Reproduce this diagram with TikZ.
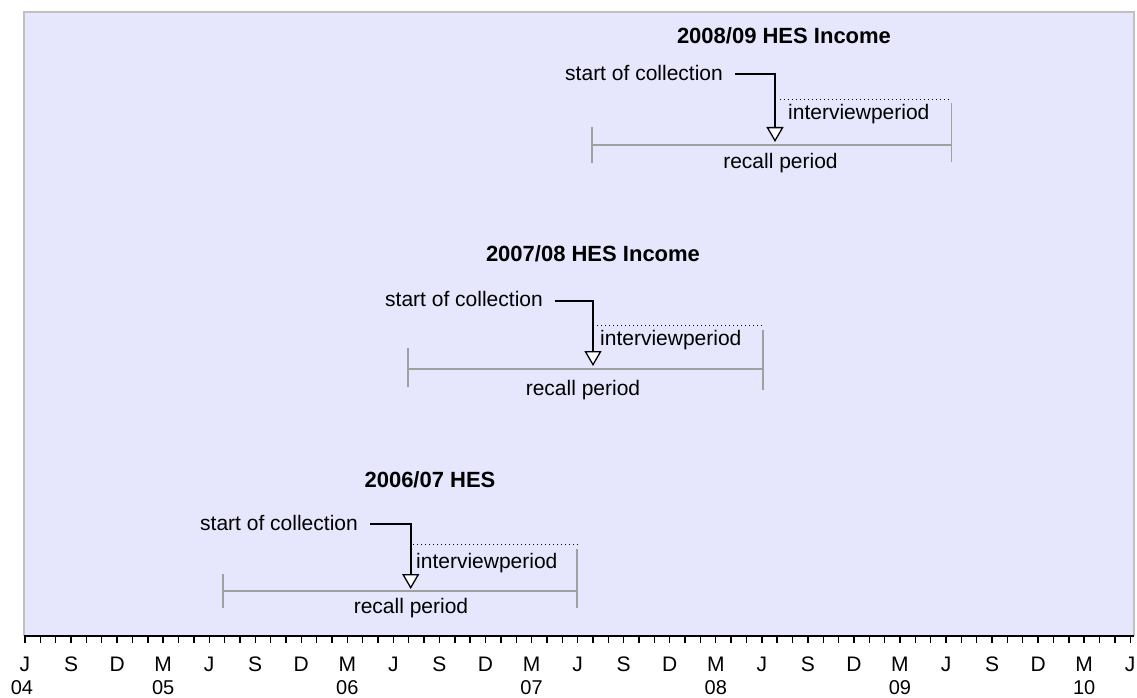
\documentclass[tikz,border=0pt]{standalone}
\usepackage{fontspec}
\setmainfont{Liberation Sans}
\usetikzlibrary{arrows.meta}
\definecolor{plotbg}{RGB}{230,230,252}
\definecolor{framegray}{RGB}{192,192,192}
\definecolor{recallgray}{RGB}{160,160,160}
\begin{document}
\begin{tikzpicture}[x=1pt,y=-1pt,
  lbl/.style={inner sep=0pt, font=\fontsize{21}{21}\selectfont},
  yrlbl/.style={inner sep=0pt, font=\fontsize{20}{20}\selectfont},
  ttl/.style={inner sep=0pt, font=\fontsize{22}{22}\selectfont\bfseries},
  recall/.style={draw=recallgray, line width=1.6pt},
  ptr/.style={draw=black, line width=1.8pt,
    -{Triangle[width=17pt,length=15pt,fill=white,line width=1.3pt]}},
  ivw/.style={draw=black, line width=1pt, dash pattern=on 1pt off 3pt},
  tickmark/.style={draw=black, line width=1.4pt},
  axisline/.style={draw=black, line width=1.6pt}
]
\useasboundingbox[fill=white] (0,0) rectangle (1137,698);
% plot area
\fill[plotbg] (24,12) rectangle (1133.5,635.7);
\draw[framegray, line width=2pt] (24,635.7) -- (24,12) -- (1133.5,12) -- (1133.5,635.7);

% axis
\coordinate (ax0) at (24,635.7);
\coordinate (ax1) at (1134,635.7);
\draw[axisline] (ax0) -- (ax1);
\foreach \m in {0,...,72} {
  \draw[tickmark] (25+15.35*\m,635.7) -- (25+15.35*\m,643);
}
\foreach \k/\l in {0/J,1/S,2/D,3/M,4/J,5/S,6/D,7/M,8/J,9/S,10/D,11/M,12/J,13/S,14/D,15/M,16/J,17/S,18/D,19/M,20/J,21/S,22/D,23/M,24/J} {
  \node[lbl, anchor=base] (mon\k) at (25+46.05*\k,671.5) {\l};
}
\node[yrlbl, anchor=base] (yr04) at (22,694) {04};
\foreach \j/\y in {0/05,1/06,2/07,3/08,4/09,5/10} {
  \node[yrlbl, anchor=base] (yr\y) at (25+15.35*9+184.2*\j,694) {\y};
}

% ---------- 2008/09 HES Income ----------
\node[ttl, anchor=base] (t1) at (784,44) {2008/09 HES Income};
\node[lbl, anchor=base east] (s1) at (723,80.5) {start of collection};
\coordinate (k1) at (735,74.3);
\coordinate (tip1) at (775,142);
\draw[ptr] (k1) -| (tip1);
\coordinate (r1L) at (592,145);
\coordinate (r1R) at (951.5,145);
\draw[recall] (r1L) -- (r1R);
\draw[recall] (592,127) -- (592,163);
\draw[recall] (951.5,103) -- (951.5,162);
\coordinate (d1L) at (780,99.3);
\coordinate (d1R) at (951.5,99.3);
\draw[ivw] (d1L) -- (d1R);
\node[lbl, anchor=base west] (i1) at (788,120) {interviewperiod};
\node[lbl, anchor=base] (rc1) at (780.5,168) {recall period};

% ---------- 2007/08 HES Income ----------
\node[ttl, anchor=base] (t2) at (593,261) {2007/08 HES Income};
\node[lbl, anchor=base east] (s2) at (543,306) {start of collection};
\coordinate (k2) at (555,300.7);
\coordinate (tip2) at (593,366);
\draw[ptr] (k2) -| (tip2);
\coordinate (r2L) at (408,369);
\coordinate (r2R) at (763,369);
\draw[recall] (r2L) -- (r2R);
\draw[recall] (408,348) -- (408,387);
\draw[recall] (763,330) -- (763,390);
\coordinate (d2L) at (597,325);
\coordinate (d2R) at (765,325);
\draw[ivw] (d2L) -- (d2R);
\node[lbl, anchor=base west] (i2) at (600,345) {interviewperiod};
\node[lbl, anchor=base] (rc2) at (583,395) {recall period};

% ---------- 2006/07 HES ----------
\node[ttl, anchor=base] (t3) at (430,487) {2006/07 HES};
\node[lbl, anchor=base east] (s3) at (358,530) {start of collection};
\coordinate (k3) at (370,524);
\coordinate (tip3) at (410.7,589);
\draw[ptr] (k3) -| (tip3);
\coordinate (r3L) at (223,591);
\coordinate (r3R) at (577,591);
\draw[recall] (r3L) -- (r3R);
\draw[recall] (223,574) -- (223,608);
\draw[recall] (577,549) -- (577,608);
\coordinate (d3L) at (413,544);
\coordinate (d3R) at (578,544);
\draw[ivw] (d3L) -- (d3R);
\node[lbl, anchor=base west] (i3) at (416,568) {interviewperiod};
\node[lbl, anchor=base] (rc3) at (411,613) {recall period};
\end{tikzpicture}
\end{document}
